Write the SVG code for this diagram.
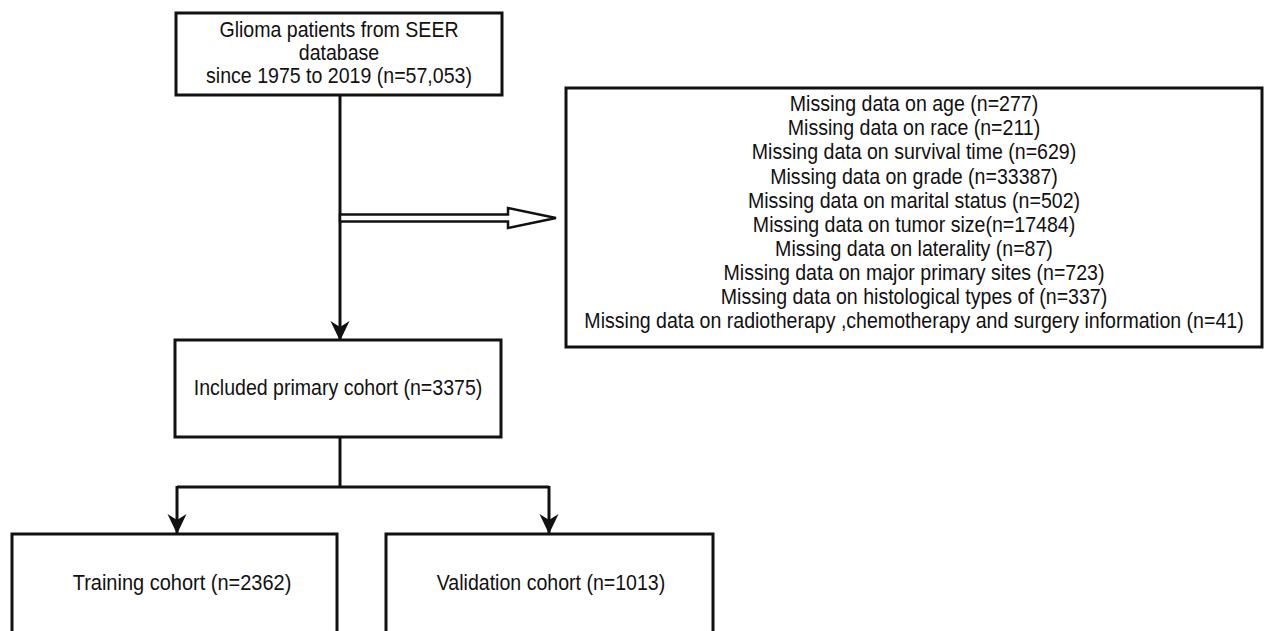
<svg xmlns="http://www.w3.org/2000/svg" width="1264" height="631" viewBox="0 0 1264 631">
<style>
.box{fill:#fff;stroke:#111;stroke-width:3}
.ln{fill:none;stroke:#111;stroke-width:3}
.t{font-family:"Liberation Sans",Arial,sans-serif;font-size:21.5px;fill:#111;text-anchor:middle}
</style>
<defs>
<marker id="ah" viewBox="0 0 20 20" refX="19" refY="10" markerWidth="20" markerHeight="20" markerUnits="userSpaceOnUse" orient="auto">
<path d="M0,0.5 L20,10 L0,19.5 L6,10 Z" fill="#111"/>
</marker>
</defs>
<rect width="1264" height="631" fill="#fff"/>
<g id="connectors">
<path class="ln" d="M340,95 V340" marker-end="url(#ah)"/>
<path d="M340,214.5 H508 V208 L556,218 L508,228 V221.5 H340 Z" fill="#fff" stroke="#111" stroke-width="2.5" stroke-linejoin="miter"/>
<path class="ln" d="M340,437 V487"/>
<path class="ln" d="M177,487 H549"/>
<path class="ln" d="M177,486 V533" marker-end="url(#ah)"/>
<path class="ln" d="M549,486 V533" marker-end="url(#ah)"/>
</g>
<g id="source">
<rect class="box" x="176" y="13" width="326" height="82"/>
<g transform="translate(339,0) scale(0.91,1)">
<text class="t" x="0" y="37">Glioma patients from SEER</text>
<text class="t" x="0" y="60">database</text>
<text class="t" x="0" y="83">since 1975 to 2019 (n=57,053)</text>
</g>
</g>
<g id="excluded">
<rect class="box" x="566" y="88" width="696" height="259"/>
<g transform="translate(914,0) scale(0.91,1)">
<text class="t" x="0" y="111">Missing data on age (n=277)</text>
<text class="t" x="0" y="135">Missing data on race (n=211)</text>
<text class="t" x="0" y="159">Missing data on survival time (n=629)</text>
<text class="t" x="0" y="184">Missing data on grade (n=33387)</text>
<text class="t" x="0" y="208">Missing data on marital status (n=502)</text>
<text class="t" x="0" y="232">Missing data on tumor size(n=17484)</text>
<text class="t" x="0" y="256">Missing data on laterality (n=87)</text>
<text class="t" x="0" y="280">Missing data on major primary sites (n=723)</text>
<text class="t" x="0" y="304">Missing data on histological types of (n=337)</text>
<text class="t" x="0" y="328">Missing data on radiotherapy ,chemotherapy and surgery information (n=41)</text>
</g>
</g>
<g id="primary">
<rect class="box" x="175" y="340" width="326" height="97"/>
<text class="t" transform="translate(338,0) scale(0.91,1)" x="0" y="395">Included primary cohort (n=3375)</text>
</g>
<g id="training">
<rect class="box" x="12" y="534" width="325" height="110"/>
<text class="t" transform="translate(182,0) scale(0.93,1)" x="0" y="590">Training cohort (n=2362)</text>
</g>
<g id="validation">
<rect class="box" x="386" y="534" width="327" height="110"/>
<text class="t" transform="translate(551,0) scale(0.91,1)" x="0" y="590">Validation cohort (n=1013)</text>
</g>
</svg>
